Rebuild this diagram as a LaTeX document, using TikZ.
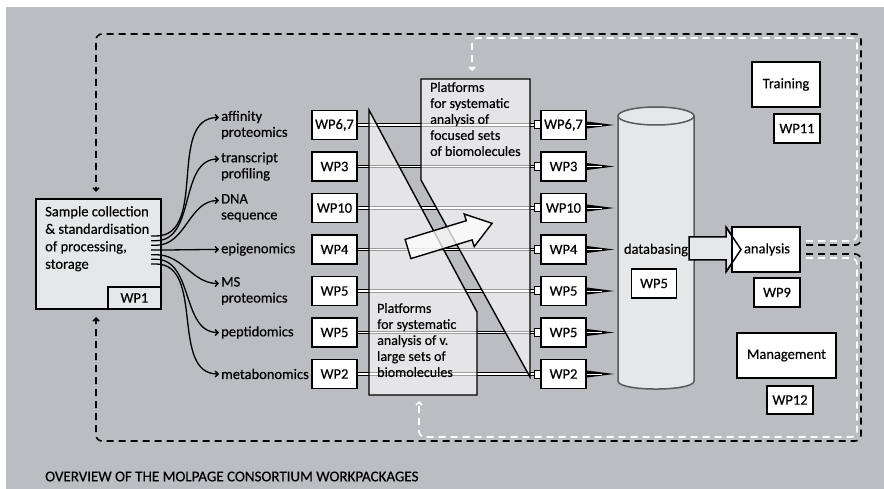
\documentclass[tikz,border=0pt]{standalone}
\usepackage{fontspec}
\setmainfont{Carlito}[FakeBold=0.35]
\usetikzlibrary{arrows.meta,calc}
\definecolor{bg}{HTML}{BCBDC0}
\definecolor{panel}{HTML}{E6E7E8}
\definecolor{cyl}{HTML}{58595B}
\pgfdeclarelayer{bgl}
\pgfdeclarelayer{rowl}
\pgfsetlayers{bgl,rowl,main}
\begin{document}
\begin{tikzpicture}[x=1pt,y=-1pt]
\tikzset{
  txt/.style={font=\fontsize{14.5}{16}\selectfont, inner sep=0},
  ptxt/.style={font=\fontsize{14}{16}\selectfont, inner sep=0},
  wp/.style={draw, line width=1.8, fill=white, minimum width=45, minimum height=29, inner sep=0, font=\fontsize{14.5}{16}\selectfont},
  pbox/.style={draw, line width=1.4, fill=white, fill opacity=0.62, draw opacity=1},
  dbl/.style={draw=black, line width=1, double=white, double distance=1.8},
  bdash/.style={line width=1.6, dash pattern=on 7pt off 5pt, rounded corners=6, -{Straight Barb[length=3pt,width=6pt]}},
  lbl/.style={txt, anchor=west, align=left},
  flow/.style={line width=1.3, -{Straight Barb[length=3pt,width=6pt]}},
}
\useasboundingbox (0,0) rectangle (884,489);
\begin{pgfonlayer}{bgl}
\fill[white] (0,0) rectangle (884,489);
\fill[bg] (6,7) rectangle (884,489);
\end{pgfonlayer}

% platform panels (semi-transparent)
\path[pbox] (369,110) -- (477,312) -- (477,395) -- (369,395) -- cycle;
\path[pbox] (421,79) -- (530,79) -- (530,377) -- (421,180) -- cycle;
\node[ptxt, anchor=north west, align=left] (ftext) at (430,82) {Platforms\\for systematic\\analysis of\\focused sets\\of biomolecules};
\node[ptxt, anchor=north west, align=left] (ltext) at (377,303) {Platforms\\for systematic\\analysis of v.\\large sets of\\biomolecules};

% central arrow
\path[draw, line width=1.4, fill=white, fill opacity=0.75, draw opacity=1]
  (405.1,239.4) -- (466.3,220.7) -- (464.2,214.0) -- (492.1,223.3) -- (474.2,246.6) -- (472.1,239.9) -- (410.9,258.6) -- cycle;

% rows
\foreach \i/\c/\t in {1/125/{WP6,7},2/166.5/WP3,3/208/WP10,4/249.5/WP4,5/291/WP5,6/332.5/WP5,7/374/WP2}{
  \node[wp] (L\i) at (334.5,\c) {\t};
  \node[wp] (R\i) at (563.5,\c) {\t};
  \coordinate (k\i) at (614,\c);
  \begin{pgfonlayer}{rowl}
    \draw[dbl] (L\i.east) -- ([xshift=-6]R\i.west);
  \end{pgfonlayer}
  \draw[line width=1, fill=white] ([yshift=4]R\i.west) -- ++(-6,0) -- ++(0,8) -- ++(6,0);
  \fill ([yshift=3.5]R\i.east) -- (k\i) -- ([yshift=-3.5]R\i.east) -- cycle;
  \draw[white, line width=0.7] (R\i.east) -- ($(R\i.east)!0.55!(k\i)$);
}

% cylinder
\path[draw=cyl, line width=1.5, fill=panel] (618,116) -- (618,381) .. controls (618,391.7) and (694,391.7) .. (694,381) -- (694,116) -- cycle;
\draw[cyl, line width=1.5, fill=panel] (656,116) ellipse [x radius=38, y radius=9];
\node[txt] (db) at (656,250) {databasing};
\node[wp] (wpc) at (654,283.5) {WP5};

% analysis block arrow and boxes
\path[draw, line width=1.5, fill=panel] (689,237) -- (726,237) -- (726,227) -- (741,249.5) -- (726,272) -- (726,260) -- (689,260) -- cycle;
\node[wp, minimum width=68, minimum height=45] (ana) at (766,249.5) {};
\draw[line width=1.5] (726,227) -- (741,249.5) -- (726,272);
\node[txt] (anat) at (767,249.5) {analysis};
\node[wp, minimum width=46] (wp9) at (777,292.5) {WP9};
\node[wp, minimum width=68, minimum height=45] (train) at (786,84.5) {Training};
\node[wp, minimum width=46] (wp11) at (797,128.5) {WP11};
\node[wp, minimum width=99, minimum height=45] (mgmt) at (786.5,355.5) {Management};
\node[wp, minimum width=46, minimum height=28] (wp12) at (790,400) {WP12};

% sample box
\node[draw, line width=1.8, fill=panel, minimum width=125, minimum height=110, anchor=north west, inner sep=0] (sample) at (35,198) {};
\node[txt, anchor=north west, align=left, font=\fontsize{14.5}{17.5}\selectfont] (stext) at (45,206) {Sample collection\\\& standardisation\\of processing,\\storage};
\node[wp, fill=panel, minimum width=53, minimum height=22, anchor=south east] (wp1) at (sample.south east) {WP1};

% labels and curves
\foreach \i/\c/\t/\dy/\sy in {1/125/{affinity\\proteomics}/7.5/236,
                           2/166.5/{transcript\\profiling}/7.5/240.7,
                           3/208/{DNA\\sequence}/7.5/245.3,
                           4/249.5/{epigenomics}/0/250,
                           5/291/{MS\\proteomics}/7.5/254.7,
                           6/332.5/{peptidomics}/0/259.3,
                           7/374/{metabonomics}/0/264}{
  \node[lbl] (la\i) at (221,\c) {\t};
  \coordinate (s\i) at (151,\sy);
  \draw[flow] (s\i) -- ++(5,0) to[out=0,in=180] ([xshift=-2,yshift=\dy]la\i.west);
}

% feedback loops
\coordinate (a1) at (806,245);
\coordinate (a2) at (806,241);
\coordinate (a3) at (806,254);
\coordinate (a4) at (806,258);
\coordinate (e1) at (96,192);
\coordinate (e2) at (472,71);
\coordinate (e3) at (96,317);
\coordinate (e4) at (419,401);
\begin{pgfonlayer}{rowl}
\draw[bdash] (a1) -| (861,34) -| (e1);
\draw[bdash, white] (a2) -| (857,38) -| (e2);
\draw[bdash] (a3) -| (861,441) -| (e3);
\draw[bdash, white] (a4) -| (857,437) -| (e4);
\end{pgfonlayer}

\node[txt, anchor=west, font=\fontsize{15}{16}\selectfont] (cap) at (45,476.5) {OVERVIEW OF THE MOLPAGE CONSORTIUM WORKPACKAGES};
\end{tikzpicture}
\end{document}
